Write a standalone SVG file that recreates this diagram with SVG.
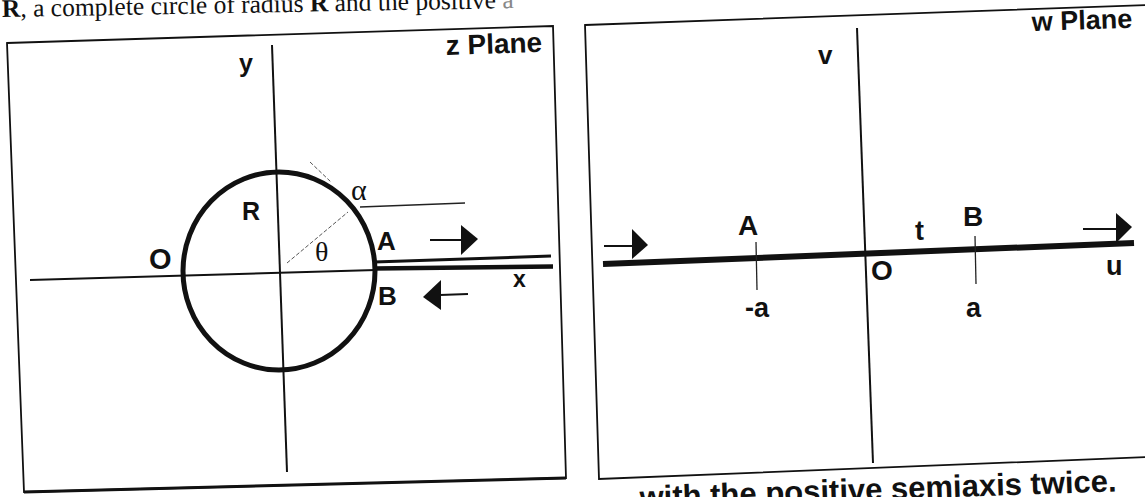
<svg xmlns="http://www.w3.org/2000/svg" width="1145" height="497" viewBox="0 0 1145 497">
<style>
.frame{fill:none;stroke:#111;stroke-width:1.8}
.ax{stroke:#111;stroke-width:2;fill:none}
.thick{stroke:#111;stroke-width:5;fill:none}
.thin{stroke:#222;stroke-width:1.3;fill:none}
.dash{stroke:#555;stroke-width:1;stroke-dasharray:4 2;fill:none}
.lbl{font-family:"Liberation Sans",Arial,sans-serif;font-weight:bold;fill:#111}
.gk{font-family:"Liberation Serif","Times New Roman",serif;fill:#111}
.head{fill:#111}
</style>
<rect width="1145" height="497" fill="#fff"/>
<text x="2" y="17" font-family="Liberation Serif,serif" font-size="25.5" fill="#111" transform="rotate(-1 2 17)"><tspan font-weight="bold">R</tspan>, a complete circle of radius <tspan font-weight="bold">R</tspan> and the positive <tspan fill="#888">a</tspan></text>
<g id="zplane">
<polygon class="frame" points="7,43 553,26 566,478 24,492"/>
<line x1="24" y1="492" x2="566" y2="478" stroke="#111" stroke-width="3"/>
<text class="lbl" x="446" y="55" font-size="28" transform="rotate(-1.9 446 55)">z Plane</text>
<text class="lbl" x="239" y="72" font-size="25">y</text>
<line class="ax" x1="272" y1="45" x2="287" y2="472"/>
<line class="ax" x1="30" y1="280" x2="376" y2="270"/>
<ellipse class="thick" cx="279" cy="271" rx="96" ry="99"/>
<line x1="374" y1="262" x2="551" y2="256" stroke="#111" stroke-width="3"/>
<line x1="374" y1="268.5" x2="553" y2="266.5" stroke="#111" stroke-width="4.5"/>
<line class="dash" x1="287" y1="263" x2="348" y2="212"/>
<line class="dash" x1="310" y1="162" x2="331" y2="182"/>
<line class="thin" x1="360" y1="207" x2="465" y2="203"/>
<line class="ax" x1="430" y1="240" x2="462" y2="240"/>
<polygon class="head" points="461,225 461,255 478,239"/>
<line class="ax" x1="468" y1="294" x2="440" y2="295"/>
<polygon class="head" points="441,280 441,310 423,297"/>
<text class="lbl" x="242" y="220" font-size="25">R</text>
<text class="lbl" x="149" y="269" font-size="29">O</text>
<text class="gk" x="351" y="200" font-size="30">α</text>
<text class="gk" x="315" y="261" font-size="28">θ</text>
<text class="lbl" x="377" y="250" font-size="26">A</text>
<text class="lbl" x="378" y="305" font-size="26">B</text>
<text class="lbl" x="513" y="287" font-size="23">x</text>
</g>
<g id="wplane">
<polygon class="frame" points="585,25 1148,5 1148,457 599,479"/>
<text class="lbl" x="1032" y="31" font-size="27" transform="rotate(-1.9 1032 31)">w Plane</text>
<text class="lbl" x="818" y="64" font-size="26">v</text>
<line class="ax" x1="857" y1="28" x2="873" y2="463" stroke-width="2.5"/>
<line x1="603" y1="264" x2="1134" y2="243" stroke="#111" stroke-width="6"/>
<line class="ax" x1="604" y1="246" x2="633" y2="246"/>
<polygon class="head" points="632,229 632,259 648,245"/>
<line class="ax" x1="1083" y1="229" x2="1117" y2="229"/>
<polygon class="head" points="1116,213 1116,243 1132,227"/>
<text class="lbl" x="738" y="235" font-size="28">A</text>
<line class="thin" x1="756" y1="242" x2="757" y2="290"/>
<text class="lbl" x="745" y="317" font-size="27">-a</text>
<text class="lbl" x="915" y="240" font-size="27">t</text>
<text class="lbl" x="963" y="226" font-size="28">B</text>
<line class="thin" x1="975" y1="236" x2="976" y2="284"/>
<text class="lbl" x="966" y="317" font-size="27">a</text>
<text class="lbl" x="871" y="280" font-size="28">O</text>
<text class="lbl" x="1106" y="275" font-size="27">u</text>
</g>
<text class="lbl" x="640" y="508" font-size="31" transform="rotate(-2 640 508)">with the positive semiaxis twice.</text>
</svg>
